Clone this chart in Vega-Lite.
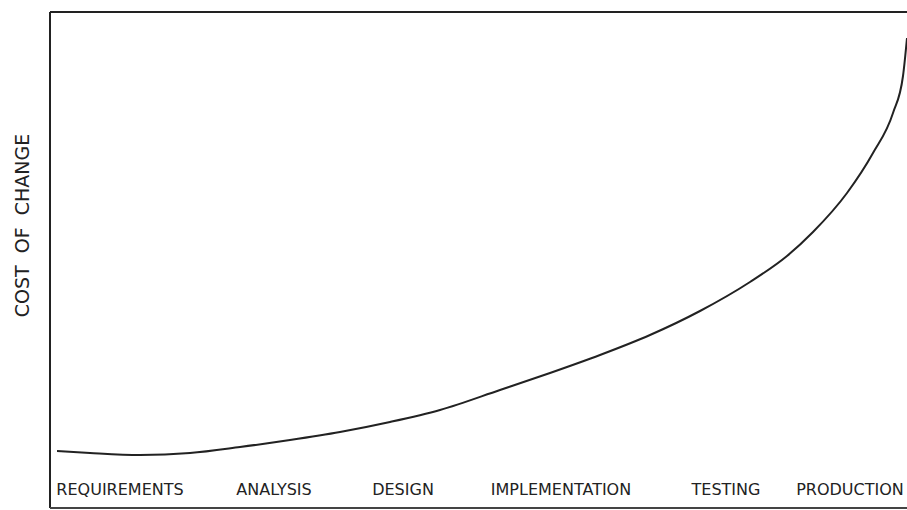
{
  "$schema": "https://vega.github.io/schema/vega-lite/v6.json",
  "width": 857,
  "height": 496,
  "autosize": {"type": "none"},
  "padding": {"left": 50, "top": 12, "right": 0, "bottom": 2},
  "background": "white",
  "config": {"view": {"stroke": null}, "font": "DejaVu Sans"},
  "datasets": {
    "curve": [
      {"stage_pos": 7, "cost": 57},
      {"stage_pos": 40, "cost": 55},
      {"stage_pos": 90, "cost": 53},
      {"stage_pos": 140, "cost": 55},
      {"stage_pos": 190, "cost": 61},
      {"stage_pos": 240, "cost": 68},
      {"stage_pos": 290, "cost": 76},
      {"stage_pos": 340, "cost": 86},
      {"stage_pos": 390, "cost": 98},
      {"stage_pos": 450, "cost": 118},
      {"stage_pos": 500, "cost": 135},
      {"stage_pos": 550, "cost": 153},
      {"stage_pos": 600, "cost": 173},
      {"stage_pos": 650, "cost": 197},
      {"stage_pos": 700, "cost": 226},
      {"stage_pos": 737, "cost": 252},
      {"stage_pos": 763, "cost": 276},
      {"stage_pos": 797, "cost": 315},
      {"stage_pos": 823, "cost": 355},
      {"stage_pos": 843, "cost": 395},
      {"stage_pos": 853, "cost": 432},
      {"stage_pos": 857, "cost": 470}
    ],
    "stages": [
      {"stage": "REQUIREMENTS", "stage_pos": 70, "cost": 18},
      {"stage": "ANALYSIS", "stage_pos": 224, "cost": 18},
      {"stage": "DESIGN", "stage_pos": 353, "cost": 18},
      {"stage": "IMPLEMENTATION", "stage_pos": 511, "cost": 18},
      {"stage": "TESTING", "stage_pos": 676, "cost": 18},
      {"stage": "PRODUCTION", "stage_pos": 800, "cost": 18}
    ],
    "one": [{"k": 1}]
  },
  "layer": [
    {
      "data": {"name": "curve"},
      "mark": {"type": "line", "interpolate": "monotone", "color": "#222", "strokeWidth": 2},
      "encoding": {
        "x": {"field": "stage_pos", "type": "quantitative", "scale": {"domain": [0, 857], "nice": false, "zero": false}, "axis": null},
        "y": {"field": "cost", "type": "quantitative", "scale": {"domain": [0, 496], "nice": false, "zero": false},
              "axis": {"title": "COST\u00a0\u00a0OF\u00a0\u00a0CHANGE", "domain": false, "ticks": false, "labels": false, "grid": false,
                       "titleFontSize": 19, "titleFontWeight": "normal", "titleColor": "#222",
                       "titleX": -28, "titleY": 213, "titleBaseline": "middle", "titleAngle": -90, "titleAlign": "center"}}
      }
    },
    {
      "data": {"name": "stages"},
      "mark": {"type": "text", "fontSize": 16, "color": "#222", "baseline": "middle", "align": "center"},
      "encoding": {
        "x": {"field": "stage_pos", "type": "quantitative"},
        "y": {"field": "cost", "type": "quantitative"},
        "text": {"field": "stage"}
      }
    },
    {
      "data": {"name": "one"},
      "mark": {"type": "rule", "color": "#222", "strokeWidth": 2},
      "encoding": {"y": {"datum": 496}}
    },
    {
      "data": {"name": "one"},
      "mark": {"type": "rule", "color": "#222", "strokeWidth": 2},
      "encoding": {"x": {"datum": 0}}
    },
    {
      "data": {"name": "one"},
      "mark": {"type": "rule", "color": "#444", "strokeWidth": 2},
      "encoding": {"y": {"datum": 0}}
    }
  ]
}
